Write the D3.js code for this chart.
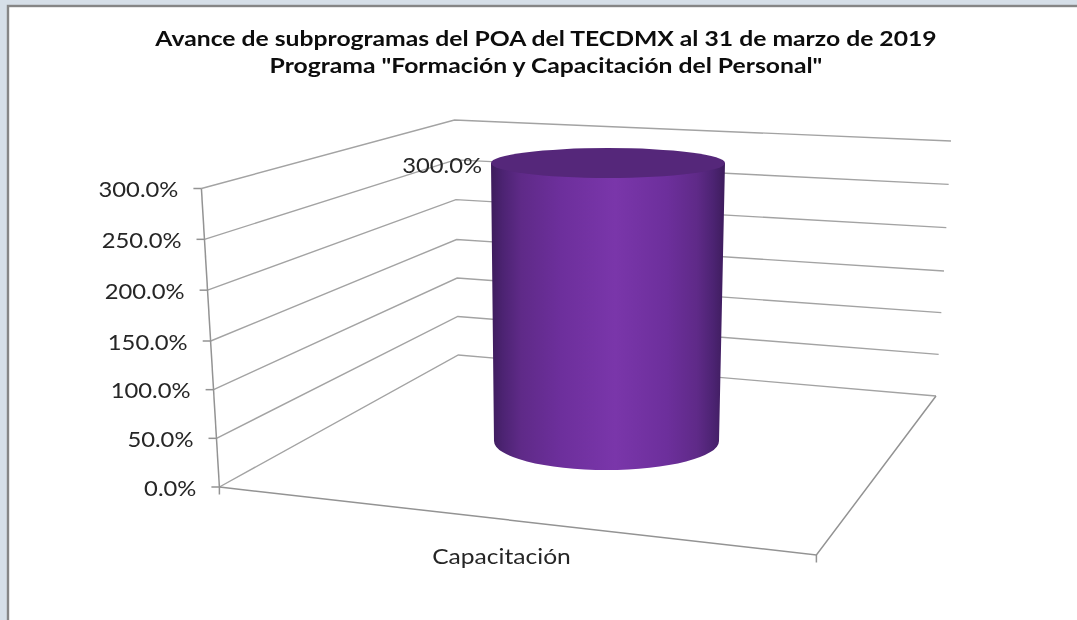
<!DOCTYPE html>
<html>
<head>
    <meta charset="utf-8">
    <title>Avance de subprogramas</title>
    <script src="https://cdn.jsdelivr.net/npm/d3@7/dist/d3.min.js"></script>
    <style>
        html, body { margin: 0; padding: 0; background: #d6dfe8; }
        svg { display: block; filter: blur(0.45px); }
        text { font-family: Lato, "Open Sans", sans-serif; }
    </style>
</head>

<body>
    <svg width="1077" height="620" id="mainsvg"></svg>
    <script>
        const categories = ['Capacitación'];
        const avance = [300];
        const tickValues = [0, 50, 100, 150, 200, 250, 300];
        const titleLines = [
            'Avance de subprogramas del POA del TECDMX al 31 de marzo de 2019',
            'Programa "Formación y Capacitación del Personal"'
        ];

        const svg = d3.select('svg');
        const fmt = v => d3.format('.1f')(v) + '%';
        const line = d3.line();
        const gridColor = '#a3a3a3';
        const axisColor = '#939393';
        const textColor = '#262626';

        // stretch text sideways, the original is a widened screenshot
        const stretch = (sel, k) => sel.each(function () {
            d3.select(this)
                .attr('textLength', this.getComputedTextLength() * k)
                .attr('lengthAdjust', 'spacingAndGlyphs');
        });

        // the three upright edges of the 3D box, value -> screen position
        const vDomain = [0, 150, 300];
        const frontX = d3.scaleLinear().domain(vDomain).range([219.4, 210.7, 201.4]);
        const frontY = d3.scaleLinear().domain(vDomain).range([487, 341, 188.5]);
        const backLX = d3.scaleLinear().domain(vDomain).range([458.3, 456.6, 454.5]);
        const backLY = d3.scaleLinear().domain(vDomain).range([355, 239.5, 120]);
        const backRX = d3.scaleLinear().domain(vDomain).range([936, 944, 951]);
        const backRY = d3.scaleLinear().domain(vDomain).range([396, 271, 141]);

        // cylinder: centre line height, and the width at base and at top
        const barY = d3.scaleLinear().domain([0, 300]).range([441, 163]);
        const barRx = d3.scaleLinear().domain([0, 300]).range([112.5, 117]);
        const barRy = d3.scaleLinear().domain([0, 300]).range([29, 15]);
        const barX = d3.scaleBand().domain(categories).range([494, 719]);
        const barXTop = d3.scaleBand().domain(categories).range([491, 725]);

        // page background and chart area
        svg.append('rect')
            .attr('x', 8).attr('y', 6)
            .attr('width', 1077).attr('height', 620)
            .attr('fill', '#fff')
            .attr('stroke', '#868686')
            .attr('stroke-width', 2.4);

        // title
        svg.selectAll('.title').data(titleLines).join('text')
            .attr('class', 'title')
            .attr('x', 546)
            .attr('y', (d, i) => i === 0 ? 45.5 : 72.5)
            .attr('text-anchor', 'middle')
            .attr('font-size', 20)
            .attr('font-weight', 700)
            .attr('fill', '#0d0d0d')
            .text(d => d)
            .call(stretch, 1.235);

        // gridlines on the side and back walls
        svg.append('g').selectAll('path').data(tickValues).join('path')
            .attr('d', d => line([
                [frontX(d), frontY(d)],
                [backLX(d), backLY(d)],
                [backRX(d), backRY(d)]
            ]))
            .attr('fill', 'none')
            .attr('stroke', gridColor)
            .attr('stroke-width', 1.4);

        // floor: front edge, right edge
        svg.append('path')
            .attr('d', line([
                [frontX(0), frontY(0)],
                [816.4, 555],
                [backRX(0), backRY(0)]
            ]))
            .attr('fill', 'none')
            .attr('stroke', axisColor)
            .attr('stroke-width', 1.5);

        // value axis and ticks
        svg.append('path')
            .attr('d', line([[frontX(0), frontY(0)], [frontX(300), frontY(300)]]))
            .attr('stroke', axisColor)
            .attr('stroke-width', 1.5);
        svg.append('g').selectAll('line').data(tickValues).join('line')
            .attr('x1', d => frontX(d) - 8)
            .attr('x2', d => frontX(d))
            .attr('y1', d => frontY(d))
            .attr('y2', d => frontY(d))
            .attr('stroke', axisColor)
            .attr('stroke-width', 1.5);

        // category ticks
        svg.append('g').selectAll('line').data([[frontX(0), frontY(0)], [816.4, 555]]).join('line')
            .attr('x1', d => d[0]).attr('x2', d => d[0])
            .attr('y1', d => d[1]).attr('y2', d => d[1] + 7.5)
            .attr('stroke', axisColor)
            .attr('stroke-width', 1.5);

        svg.append('g').selectAll('text').data(tickValues).join('text')
            .attr('x', d => frontX(d) - 23)
            .attr('y', d => frontY(d) + 8.5)
            .attr('text-anchor', 'end')
            .attr('font-size', 20.5)
            .attr('fill', textColor)
            .text(fmt)
            .call(stretch, 1.16);

        svg.append('g').selectAll('text').data(categories).join('text')
            .attr('x', 501.5)
            .attr('y', 564)
            .attr('text-anchor', 'middle')
            .attr('font-size', 20.5)
            .attr('fill', textColor)
            .text(d => d)
            .call(stretch, 1.2);

        // cylinder
        const defs = svg.append('defs');
        const grad = defs.append('linearGradient').attr('id', 'barFill');
        [[0, '#3d1c5c'], [0.05, '#4c2372'], [0.13, '#5f2a88'], [0.3, '#6d2f9c'],
         [0.53, '#7a36aa'], [0.75, '#6d2f9c'], [0.88, '#5f2a88'], [0.95, '#4c2372'], [1, '#3d1c5c']]
            .forEach(s => grad.append('stop').attr('offset', s[0]).attr('stop-color', s[1]));

        const bars = categories.map((c, i) => ({ c, v: avance[i] }));
        const g = svg.append('g');

        g.selectAll('path.body').data(bars).join('path')
            .attr('class', 'body')
            .attr('d', d => {
                const x0 = barX(d.c), x1 = x0 + barX.bandwidth();
                const t0 = barXTop(d.c), t1 = t0 + barXTop.bandwidth();
                return `M${t0},${barY(d.v)} L${x0},${barY(0)}`
                    + ` A${barRx(0)},${barRy(0)} 0 0 0 ${x1},${barY(0)}`
                    + ` L${t1},${barY(d.v)} Z`;
            })
            .attr('fill', 'url(#barFill)');

        g.selectAll('ellipse').data(bars).join('ellipse')
            .attr('cx', d => barXTop(d.c) + barXTop.bandwidth() / 2)
            .attr('cy', d => barY(d.v))
            .attr('rx', d => barRx(d.v))
            .attr('ry', d => barRy(d.v))
            .attr('fill', '#55277a');

        // data label
        g.selectAll('text').data(bars).join('text')
            .attr('x', d => barXTop(d.c) - 9)
            .attr('y', d => barY(d.v) + 9.5)
            .attr('text-anchor', 'end')
            .attr('font-size', 20.5)
            .attr('fill', textColor)
            .text(d => fmt(d.v))
            .call(stretch, 1.16);
    </script>
</body>
</html>
